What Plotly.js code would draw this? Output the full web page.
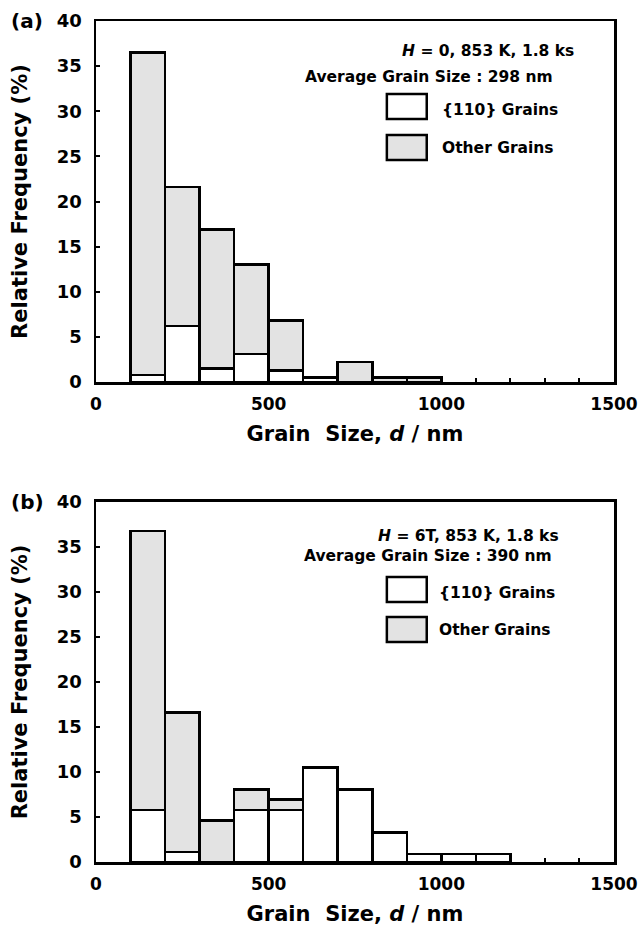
<!DOCTYPE html>
<html>
<head>
<meta charset="utf-8">
<script src="https://cdn.plot.ly/plotly-3.0.1.min.js"></script>
<style>html,body{margin:0;padding:0;background:#fff;}#chart{width:639px;height:939px;}</style>
</head>
<body>
<div id="chart"></div>
<script>
// Bin centres (nm), bin width 100 nm
const binsA = [150, 250, 350, 450, 550, 650, 750, 850, 950];
const grains110A = [0.8, 6.2, 1.5, 3.1, 1.3, 0.5, 0, 0, 0];
const otherA     = [35.7, 15.4, 15.4, 9.9, 5.5, 0, 2.2, 0.5, 0.5];

const binsB = [150, 250, 350, 450, 550, 650, 750, 850, 950, 1050, 1150];
const grains110B = [5.8, 1.1, 0, 5.75, 5.8, 10.5, 8.05, 3.3, 0.9, 0.9, 0.9];
const otherB     = [31.0, 15.5, 4.6, 2.3, 1.15, 0, 0, 0, 0, 0, 0];

const xTickVals = [0,100,200,300,400,500,600,700,800,900,1000,1100,1200,1300,1400,1500];
const xTickText = ['0','','','','','500','','','','','1000','','','','','1500'];
const yTickVals = [0,5,10,15,20,25,30,35,40];

const seriesNames = ['{110} Grains', 'Other Grains'];
const infoA = ['<i>H</i> = 0, 853 K, 1.8 ks', 'Average Grain Size : 298 nm'];
const infoB = ['<i>H</i> = 6T, 853 K, 1.8 ks', 'Average Grain Size : 390 nm'];

const FONT = '"DejaVu Sans", Arial, sans-serif';
const GRAY = '#e3e3e3';

function bars(x, y, name, color, xa, ya) {
  return {type: 'bar', x: x, y: y, name: name, width: 100, xaxis: xa, yaxis: ya,
    marker: {color: color, line: {color: '#000', width: 2.5}}, showlegend: false, hoverinfo: 'skip'};
}

const data = [
  bars(binsA, grains110A, seriesNames[0], '#ffffff', 'x', 'y'),
  bars(binsA, otherA, seriesNames[1], GRAY, 'x', 'y'),
  bars(binsB, grains110B, seriesNames[0], '#ffffff', 'x2', 'y2'),
  bars(binsB, otherB, seriesNames[1], GRAY, 'x2', 'y2')
];

function xaxis(anchor) {
  return {anchor: anchor, range: [0, 1500], tickvals: xTickVals, ticktext: xTickText,
    ticks: 'inside', ticklen: 4, tickwidth: 2, tickcolor: '#000', ticklabelstandoff: 5,
    showline: true, linecolor: '#000', linewidth: 2.5, mirror: true,
    showgrid: false, zeroline: false,
    tickfont: {family: FONT, size: 17, color: '#000', weight: 'bold'},
    title: {text: 'Grain  Size, <i>d</i> / nm', standoff: 14,
      font: {family: FONT, size: 21, color: '#000', weight: 'bold'}}};
}
function yaxis(anchor, domain) {
  return {anchor: anchor, domain: domain, range: [0, 40], tickvals: yTickVals,
    ticks: 'inside', ticklen: 4, tickwidth: 2, tickcolor: '#000', ticklabelstandoff: 8,
    showline: true, linecolor: '#000', linewidth: 2.5, mirror: true,
    showgrid: false, zeroline: false,
    tickfont: {family: FONT, size: 18, color: '#000', weight: 'bold'},
    title: {text: 'Relative Frequency (%)', standoff: 24,
      font: {family: FONT, size: 21, color: '#000', weight: 'bold'}}};
}

function legendParts(xa, ya, info, pos) {
  const ann = [], shp = [];
  const f = {family: FONT, size: 15.5, color: '#000', weight: 'bold'};
  ann.push({xref: xa + ' domain', yref: ya + ' domain', x: pos.l1x, y: pos.l1y, text: info[0],
    showarrow: false, xanchor: 'center', yanchor: 'middle', font: f});
  ann.push({xref: xa + ' domain', yref: ya + ' domain', x: pos.l2x, y: pos.l2y, text: info[1],
    showarrow: false, xanchor: 'center', yanchor: 'middle', font: f});
  const boxes = [[pos.b1y0, pos.b1y1, '#ffffff', pos.t1y], [pos.b2y0, pos.b2y1, GRAY, pos.t2y]];
  boxes.forEach((b, i) => {
    shp.push({type: 'rect', xref: xa + ' domain', yref: ya + ' domain',
      x0: 0.5615, x1: 0.6385, y0: b[0], y1: b[1], fillcolor: b[2], line: {color: '#000', width: 2.5}});
    ann.push({xref: xa + ' domain', yref: ya + ' domain', x: pos.tx, y: b[3], text: seriesNames[i],
      showarrow: false, xanchor: 'left', yanchor: 'middle', font: f});
  });
  return {ann, shp};
}

const legA = legendParts('x', 'y', infoA, {l1x: 0.756, l1y: 0.917, l2x: 0.642, l2y: 0.845,
  b1y0: 0.7285, b1y1: 0.7978, t1y: 0.7535, b2y0: 0.615, b2y1: 0.684, t2y: 0.648, tx: 0.665});
const legB = legendParts('x2', 'y2', infoB, {l1x: 0.719, l1y: 0.906, l2x: 0.641, l2y: 0.85,
  b1y0: 0.7222, b1y1: 0.7917, t1y: 0.748, b2y0: 0.6111, b2y1: 0.6806, t2y: 0.644, tx: 0.658});

const panelLabels = [
  {xref: 'paper', yref: 'paper', x: -0.168, y: 1.0, text: '(a)', showarrow: false,
    xanchor: 'left', yanchor: 'middle', font: {family: FONT, size: 20, color: '#000', weight: 'bold'}},
  {xref: 'paper', yref: 'paper', x: -0.168, y: 0.428, text: '(b)', showarrow: false,
    xanchor: 'left', yanchor: 'middle', font: {family: FONT, size: 20, color: '#000', weight: 'bold'}}
];

const layout = {
  width: 639, height: 939,
  margin: {l: 96, r: 25, t: 21, b: 77},
  paper_bgcolor: '#fff', plot_bgcolor: '#fff',
  barmode: 'stack', bargap: 0,
  showlegend: false,
  xaxis: xaxis('y'), yaxis: yaxis('x', [0.5707, 1]),
  xaxis2: xaxis('y2'), yaxis2: yaxis('x2', [0, 0.4281]),
  annotations: legA.ann.concat(legB.ann, panelLabels),
  shapes: legA.shp.concat(legB.shp)
};

Plotly.newPlot('chart', data, layout, {displayModeBar: false, staticPlot: true});
</script>
</body>
</html>
